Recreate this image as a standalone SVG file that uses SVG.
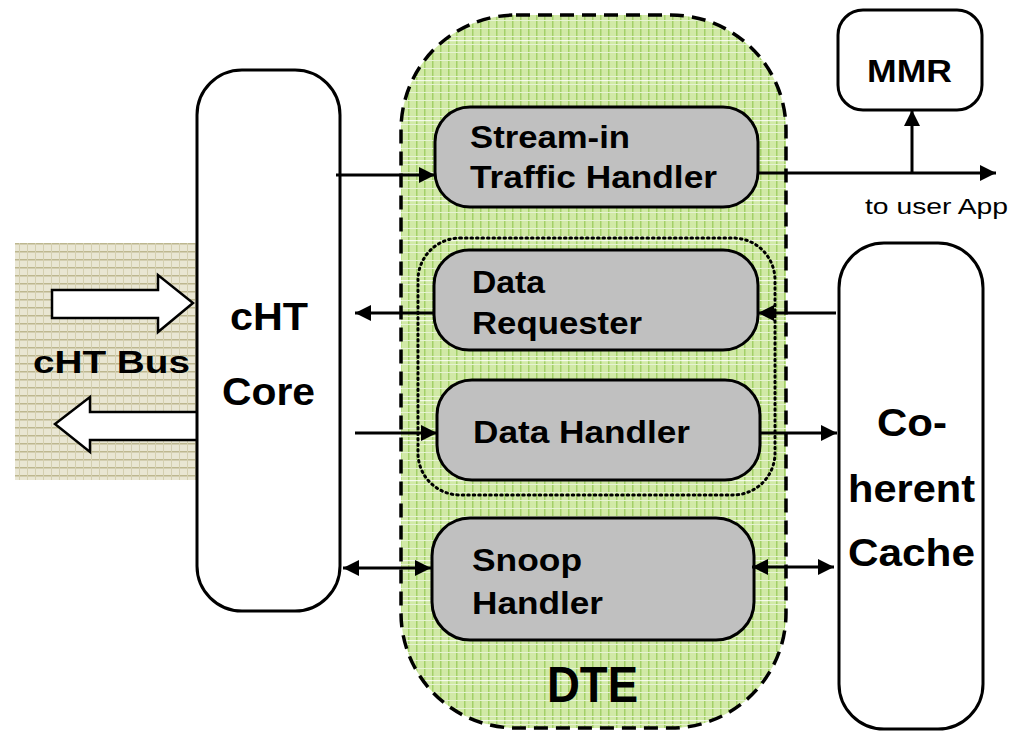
<svg xmlns="http://www.w3.org/2000/svg" width="1017" height="735" viewBox="0 0 1017 735">
  <defs>
    <style>
      .lbl { font-family: "Liberation Sans", Arial, sans-serif; font-weight: bold; fill: #000; }
      .box { fill: #fff; stroke: #000; stroke-width: 3; }
      .unit { fill: #c0c0c0; stroke: #000; stroke-width: 3; }
      .wire { fill: none; stroke: #000; stroke-width: 3; }
      .hollow { fill: #fff; stroke: #000; stroke-width: 2.5; stroke-linejoin: miter; }
    </style>
    <!-- fine green mesh for the DTE block -->
    <pattern id="mesh" width="8" height="8" patternUnits="userSpaceOnUse">
      <rect width="8" height="8" fill="#d1e9a6"/>
      <rect x="0" y="0" width="1.5" height="8" fill="#a3d068"/>
      <rect x="0" y="4" width="8" height="1" fill="#e6f3d2"/>
    </pattern>
    <pattern id="meshBands" width="40" height="40" patternUnits="userSpaceOnUse">
      <rect width="40" height="40" fill="url(#mesh)"/>
      <rect x="0" y="0" width="40" height="1.2" fill="#ffffff" opacity="0.8"/>
    </pattern>
    <!-- tan woven texture behind the bus -->
    <pattern id="weave" width="8" height="8" patternUnits="userSpaceOnUse">
      <rect width="8" height="8" fill="#e9e6d3"/>
      <rect x="0" y="3" width="8" height="1.5" fill="#bdb78f"/>
      <rect x="3" y="0" width="1" height="8" fill="#d4cfb0"/>
    </pattern>
    <marker id="head" viewBox="0 0 10 10" refX="10" refY="5" markerWidth="16" markerHeight="16" markerUnits="userSpaceOnUse" orient="auto-start-reverse">
      <path d="M0,0 L10,5 L0,10 z" fill="#000"/>
    </marker>
  </defs>

  <!-- bus backdrop -->
  <g id="cht-bus">
    <rect x="15" y="243" width="182" height="237" fill="url(#weave)"/>
    <path class="hollow" d="M52,290 H158 V275 L193,303 L158,332 V318 H52 Z"/>
    <path class="hollow" d="M197,412 H90 V397 L55,424 L90,452 V440 H197"/>
    <text class="lbl" x="33" y="373" font-size="31" textLength="157" lengthAdjust="spacingAndGlyphs">cHT Bus</text>
  </g>

  <!-- DTE container -->
  <g id="dte">
    <rect x="401" y="15" width="385" height="713" rx="115" ry="115" fill="url(#meshBands)" stroke="#000" stroke-width="3.5" stroke-dasharray="14 8"/>
    <rect x="418" y="238" width="357" height="257" rx="42" ry="42" fill="none" stroke="#000" stroke-width="3" stroke-dasharray="1.5 4" stroke-linecap="round"/>
    <text class="lbl" x="547" y="702" font-size="50" textLength="91" lengthAdjust="spacingAndGlyphs">DTE</text>
  </g>

  <g id="cht-core">
    <rect class="box" x="197" y="70" width="143" height="541" rx="45" ry="45"/>
    <text class="lbl" x="230" y="330" font-size="39" textLength="78" lengthAdjust="spacingAndGlyphs">cHT</text>
    <text class="lbl" x="222" y="405" font-size="38" textLength="93" lengthAdjust="spacingAndGlyphs">Core</text>
  </g>

  <g id="stream-in">
    <rect class="unit" x="435" y="107" width="323" height="100" rx="35" ry="35"/>
    <text class="lbl" x="470" y="148" font-size="32" textLength="160" lengthAdjust="spacingAndGlyphs">Stream-in</text>
    <text class="lbl" x="470" y="188" font-size="32" textLength="247" lengthAdjust="spacingAndGlyphs">Traffic Handler</text>
  </g>

  <g id="data-requester">
    <rect class="unit" x="434" y="250" width="324" height="100" rx="35" ry="35"/>
    <text class="lbl" x="472" y="293" font-size="32" textLength="73" lengthAdjust="spacingAndGlyphs">Data</text>
    <text class="lbl" x="472" y="334" font-size="32" textLength="170" lengthAdjust="spacingAndGlyphs">Requester</text>
  </g>

  <g id="data-handler">
    <rect class="unit" x="437" y="380" width="323" height="100" rx="35" ry="35"/>
    <text class="lbl" x="473" y="443" font-size="32" textLength="217" lengthAdjust="spacingAndGlyphs">Data Handler</text>
  </g>

  <g id="snoop-handler">
    <rect class="unit" x="432" y="518" width="322" height="122" rx="38" ry="38"/>
    <text class="lbl" x="472" y="571" font-size="32" textLength="110" lengthAdjust="spacingAndGlyphs">Snoop</text>
    <text class="lbl" x="472" y="614" font-size="32" textLength="131" lengthAdjust="spacingAndGlyphs">Handler</text>
  </g>

  <g id="mmr">
    <rect class="box" x="838" y="10" width="144" height="100" rx="25" ry="25"/>
    <text class="lbl" x="867" y="82" font-size="31" textLength="85" lengthAdjust="spacingAndGlyphs">MMR</text>
  </g>

  <g id="coherent-cache">
    <rect class="box" x="839" y="243" width="144" height="486" rx="45" ry="45"/>
    <text class="lbl" x="877" y="436" font-size="38" textLength="70" lengthAdjust="spacingAndGlyphs">Co-</text>
    <text class="lbl" x="848" y="502" font-size="38" textLength="127" lengthAdjust="spacingAndGlyphs">herent</text>
    <text class="lbl" x="848" y="566" font-size="38" textLength="127" lengthAdjust="spacingAndGlyphs">Cache</text>
  </g>

  <!-- connectors -->
  <g id="connectors">
    <line class="wire" x1="336" y1="175" x2="435" y2="175" marker-end="url(#head)"/>
    <line class="wire" x1="758" y1="173" x2="996" y2="173" marker-end="url(#head)"/>
    <line class="wire" x1="912" y1="173" x2="912" y2="110" marker-end="url(#head)"/>
    <line class="wire" x1="434" y1="313" x2="355" y2="313" marker-end="url(#head)"/>
    <line class="wire" x1="836" y1="313" x2="758" y2="313" marker-end="url(#head)"/>
    <line class="wire" x1="355" y1="433" x2="437" y2="433" marker-end="url(#head)"/>
    <line class="wire" x1="760" y1="433" x2="837" y2="433" marker-end="url(#head)"/>
    <line class="wire" x1="343" y1="568" x2="431" y2="568" marker-start="url(#head)" marker-end="url(#head)"/>
    <line class="wire" x1="752" y1="567" x2="834" y2="567" marker-start="url(#head)" marker-end="url(#head)"/>
    <text x="865" y="214" font-family="Liberation Sans, Arial, sans-serif" font-size="22" textLength="143" lengthAdjust="spacingAndGlyphs">to user App</text>
  </g>
</svg>
